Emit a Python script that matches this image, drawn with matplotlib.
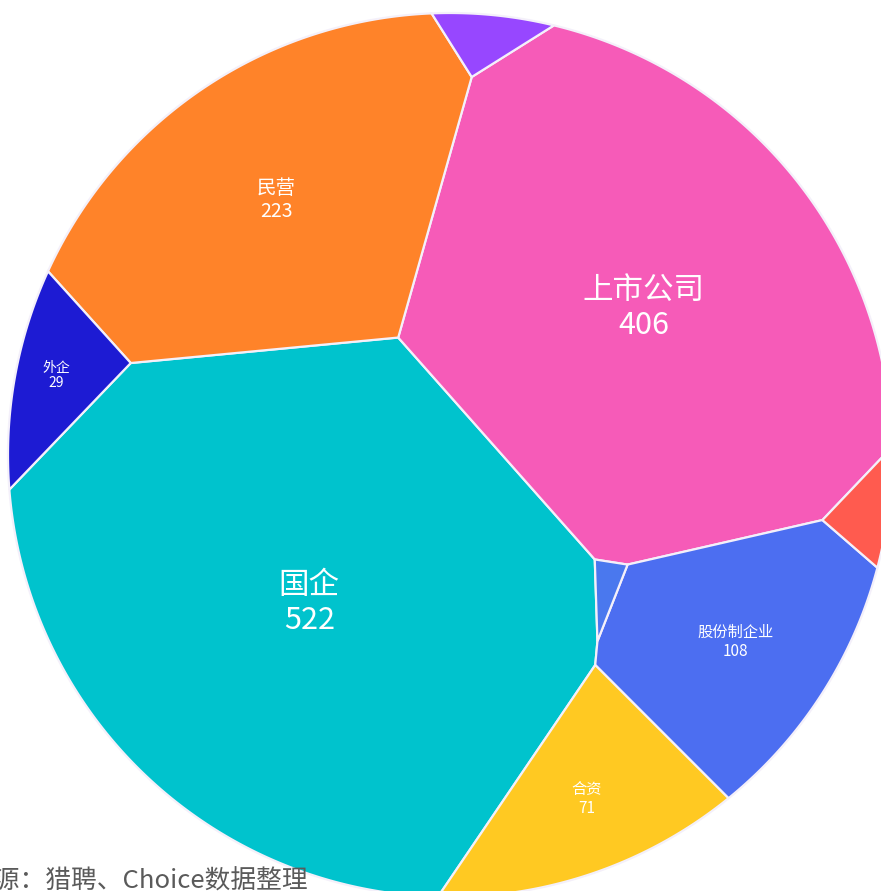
import numpy as np
import matplotlib.pyplot as plt
from matplotlib.patches import Polygon

plt.rcParams['font.family'] = ['Noto Sans CJK SC', 'DejaVu Sans']

# data
categories = ['国企', '上市公司', '民营', '股份制企业', '合资', '外企', '', '', '']
values = [522, 406, 223, 108, 71, 29, 9, 9, 3]
colors = ['#00C3CD', '#F65BB8', '#FF8329', '#4C6EF1', '#FFC922',
          '#1D1BD3', '#9747FF', '#FF5B4F', '#4A78EE']
source = '来源：猎聘、Choice数据整理'

# layout: seed points of the voronoi cells (pixels), circle, label sizes
seeds = np.array([[300, 610], [650, 300], [260, 190], [730, 650], [580, 800],
                  [55, 375], [490, 45], [860, 500], [603, 600]], dtype=float)
cx, cy, R = 450, 455, 442
font_sizes = [22, 22, 14, 11, 11, 10, 0, 0, 0]


def clip(poly, a, b):
    # keep the part of poly with a.x <= b
    out = []
    n = len(poly)
    for k in range(n):
        p, q = poly[k], poly[(k + 1) % n]
        fp, fq = a @ p - b, a @ q - b
        if fp <= 0:
            out.append(p)
        if fp * fq < 0:
            t = fp / (fp - fq)
            out.append(p + t * (q - p))
    return np.array(out)


def area(poly):
    if len(poly) < 3:
        return 0.0
    x, y = poly[:, 0], poly[:, 1]
    return 0.5 * abs(np.dot(x, np.roll(y, -1)) - np.dot(y, np.roll(x, -1)))


def centroid(poly):
    x, y = poly[:, 0], poly[:, 1]
    c = x * np.roll(y, -1) - np.roll(x, -1) * y
    a = c.sum() / 2
    return np.array([((x + np.roll(x, -1)) * c).sum() / (6 * a),
                     ((y + np.roll(y, -1)) * c).sum() / (6 * a)])


th = np.linspace(0, 2 * np.pi, 720, endpoint=False)
circle = np.column_stack([cx + R * np.cos(th), cy + R * np.sin(th)])


def power_cells(w):
    cells = []
    for i, pi in enumerate(seeds):
        poly = circle.copy()
        for j, pj in enumerate(seeds):
            if i == j or len(poly) < 3:
                continue
            a = 2 * (pj - pi)
            b = pj @ pj - pi @ pi - w[j] + w[i]
            poly = clip(poly, a, b)
        cells.append(poly)
    return cells


# weights so that cell areas follow the values
target = np.array(values, dtype=float) / sum(values) * np.pi * R ** 2
w = np.zeros(len(values))
for it in range(1500):
    cells = power_cells(w)
    areas = np.array([area(c) for c in cells])
    w += 0.4 * (target - areas)
cells = power_cells(w)

fig = plt.figure(figsize=(8.81, 8.91), dpi=100)
ax = fig.add_axes([0, 0, 1, 1])
for poly, col in zip(cells, colors):
    ax.add_patch(Polygon(poly, closed=True, facecolor=col,
                         edgecolor='#F4F0FA', linewidth=1.6))

for poly, name, v, fs in zip(cells, categories, values, font_sizes):
    if not name:
        continue
    c = centroid(poly)
    ax.text(c[0], c[1], f'{name}\n{v}', color='white', fontsize=fs,
            ha='center', va='center', linespacing=1.15)

# source note, cut by the lower left corner as in the original
ax.text(-32, 869, source, color='#5a5a5a', fontsize=18.5, ha='left', va='top')

ax.set_xlim(0, 881)
ax.set_ylim(891, 0)
ax.set_aspect('equal')
ax.axis('off')
fig.savefig('out.png', dpi=100, facecolor='white')
